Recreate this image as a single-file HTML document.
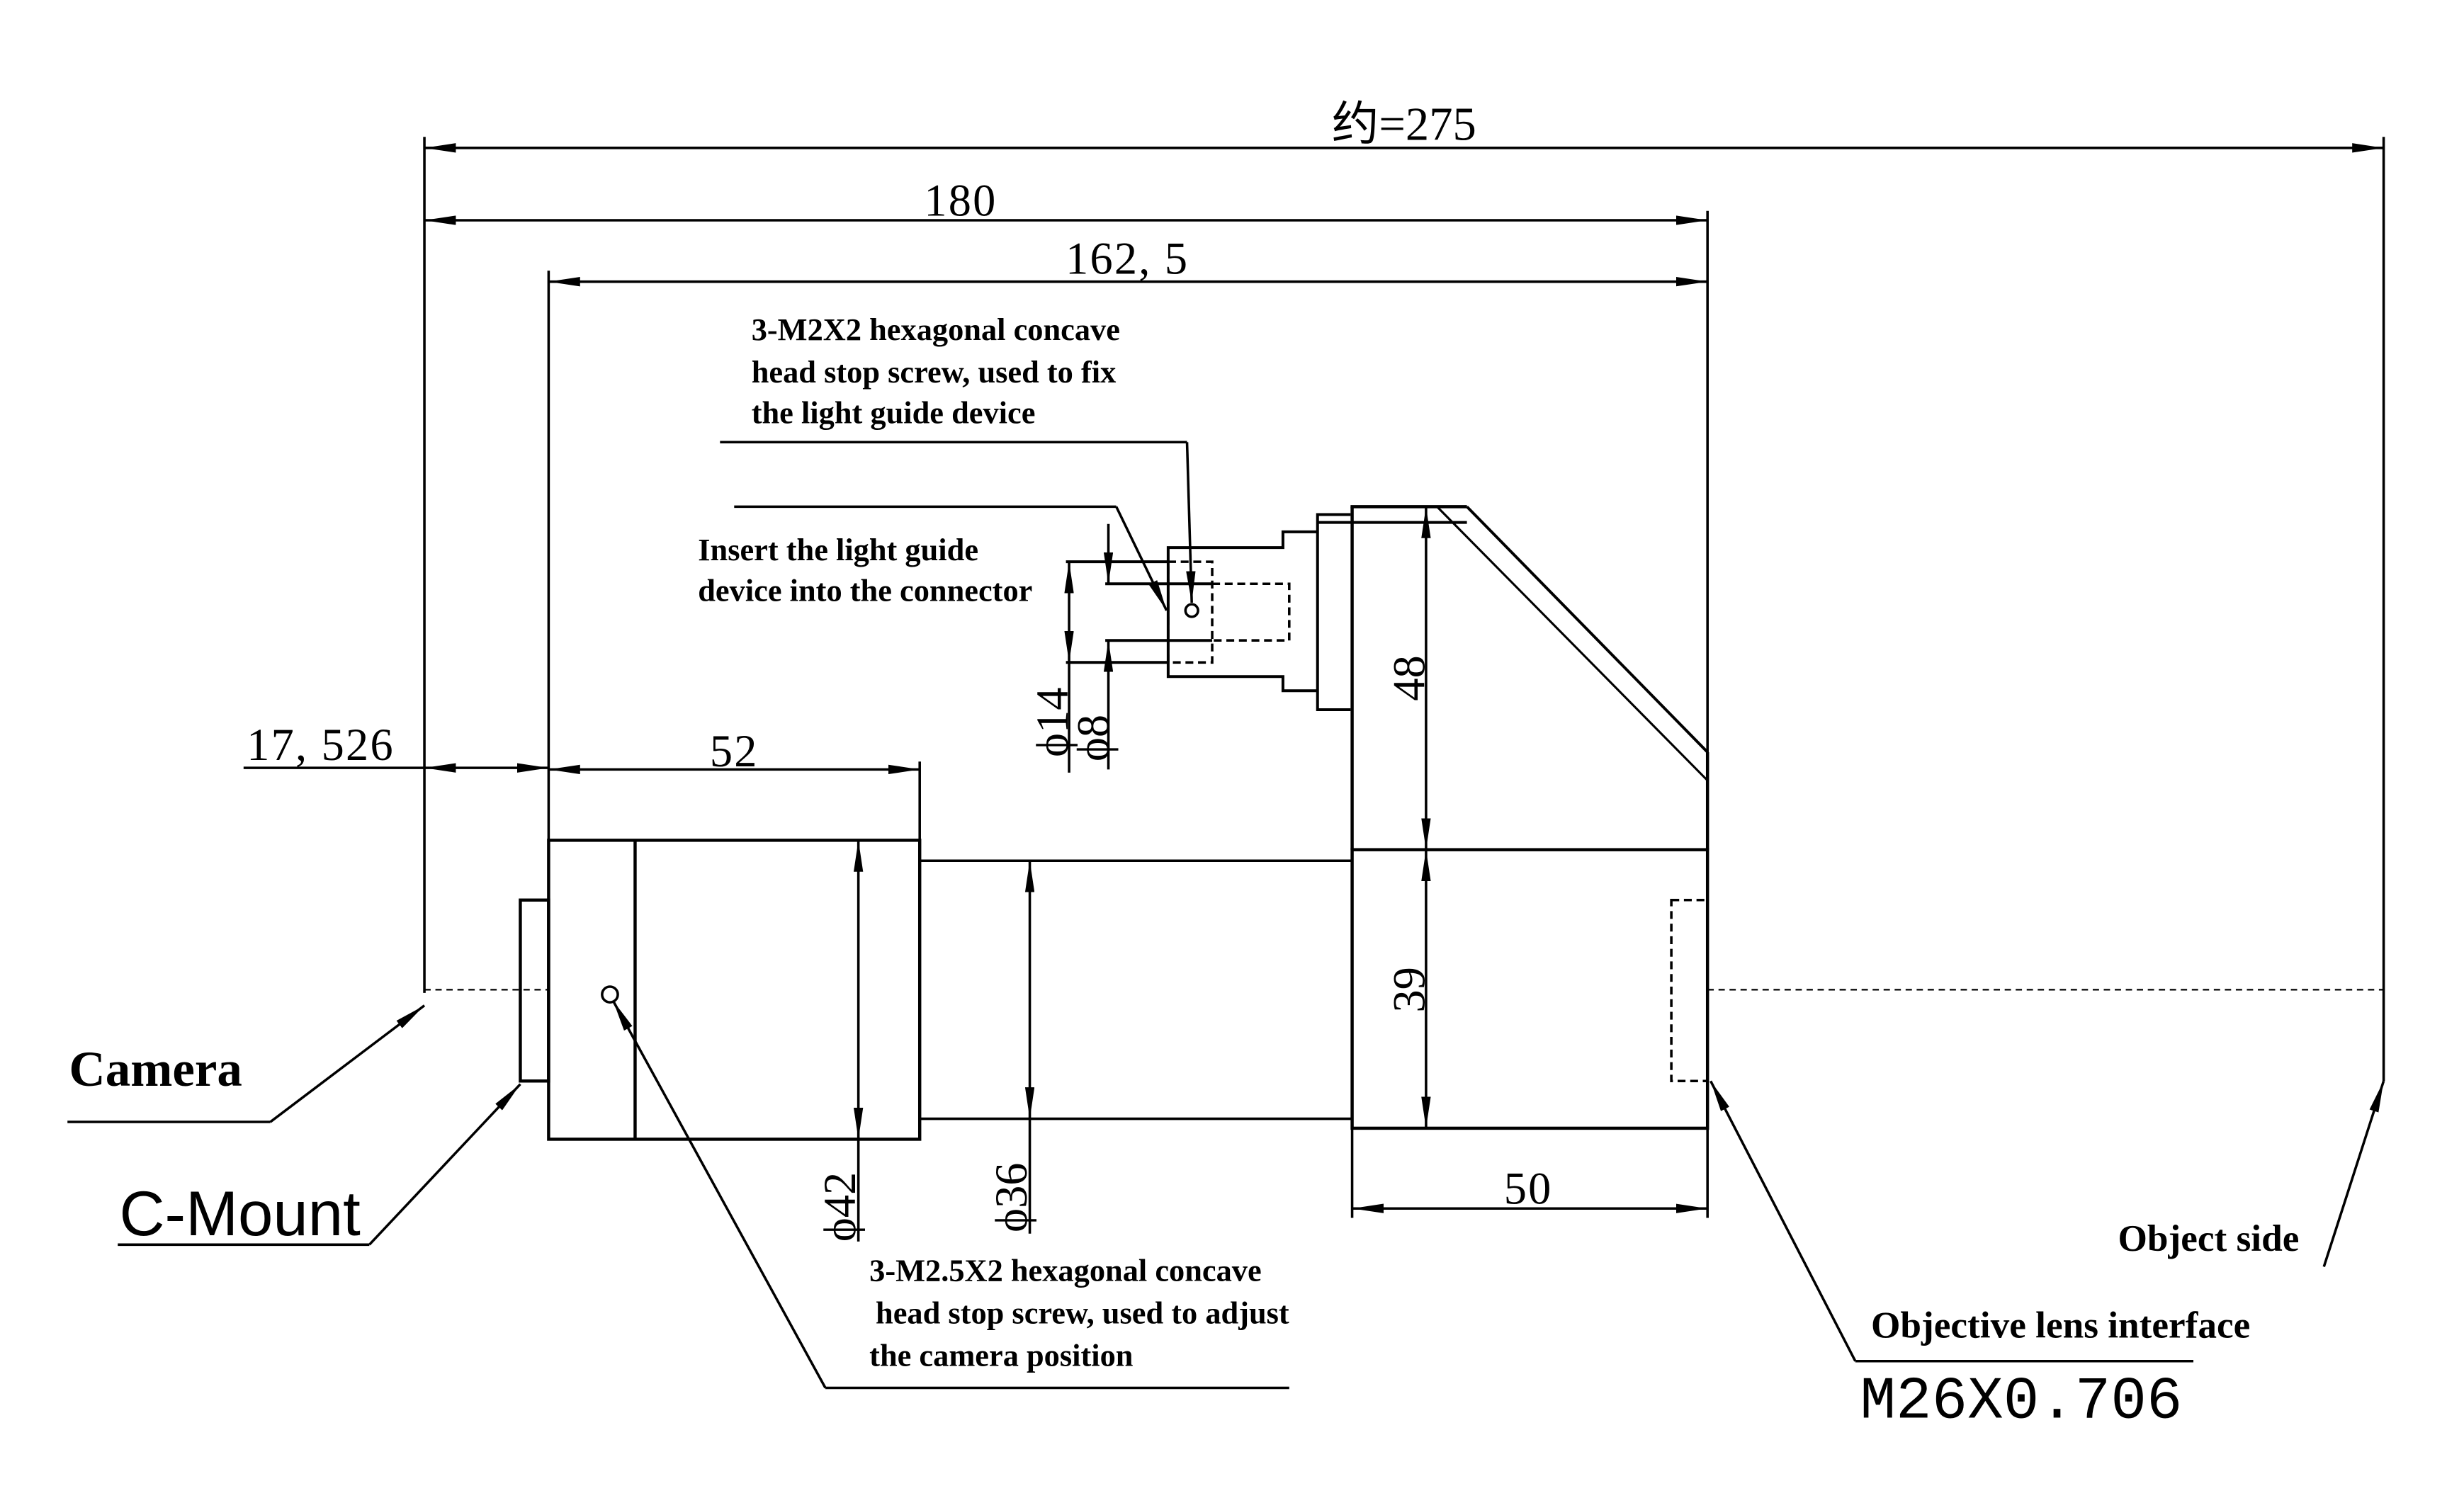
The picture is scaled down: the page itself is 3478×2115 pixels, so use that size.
<!DOCTYPE html>
<html><head><meta charset="utf-8"><style>html,body{margin:0;padding:0;background:#fff}svg{display:block}</style></head><body>
<svg width="3478" height="2115" viewBox="0.1 1 1567 952" preserveAspectRatio="none" xmlns="http://www.w3.org/2000/svg">
<defs>
<marker id="a" viewBox="0 0 20 6" refX="20" refY="3" markerWidth="20" markerHeight="6" markerUnits="userSpaceOnUse" orient="auto-start-reverse"><path d="M0,0 L20,3 L0,6 Z" fill="#000"/></marker>
</defs>
<g stroke="#000" stroke-width="1.6" fill="none">
<line x1="270" y1="88" x2="270" y2="632"/>
<line x1="1516" y1="88" x2="1516" y2="688"/>
<line x1="1086" y1="135" x2="1086" y2="497"/>
<line x1="349" y1="173" x2="349" y2="535"/>
<line x1="585" y1="485" x2="585" y2="535"/>
<line x1="270" y1="95" x2="1516" y2="95" marker-start="url(#a)" marker-end="url(#a)"/>
<line x1="270" y1="141" x2="1086" y2="141" marker-start="url(#a)" marker-end="url(#a)"/>
<line x1="349" y1="180" x2="1086" y2="180" marker-start="url(#a)" marker-end="url(#a)"/>
<line x1="155" y1="489" x2="270" y2="489"/>
<line x1="270" y1="489" x2="349" y2="489" marker-start="url(#a)" marker-end="url(#a)"/>
<line x1="349" y1="490" x2="585" y2="490" marker-start="url(#a)" marker-end="url(#a)"/>
<rect x="349" y="535" width="236" height="190" stroke-width="2"/>
<line x1="404" y1="535" x2="404" y2="725" stroke-width="2"/>
<circle cx="388" cy="633" r="5"/>
<rect x="331" y="573" width="18" height="115" stroke-width="2"/>
<line x1="585" y1="548" x2="860" y2="548"/>
<line x1="585" y1="712" x2="860" y2="712"/>
<line x1="546" y1="535" x2="546" y2="725" marker-start="url(#a)" marker-end="url(#a)"/>
<line x1="546" y1="725" x2="546" y2="790"/>
<line x1="655" y1="548" x2="655" y2="712" marker-start="url(#a)" marker-end="url(#a)"/>
<line x1="655" y1="712" x2="655" y2="785"/>
<rect x="860" y="541" width="226" height="177" stroke-width="2"/>
<line x1="860" y1="323" x2="860" y2="541" stroke-width="2"/>
<line x1="859" y1="323" x2="933" y2="323" stroke-width="2"/>
<line x1="838" y1="333" x2="933" y2="333" stroke-width="1.8"/>
<line x1="933" y1="323" x2="1086" y2="479" stroke-width="1.8"/>
<line x1="914" y1="323" x2="1086" y2="497" stroke-width="1.4"/>
<line x1="1086" y1="479" x2="1086" y2="541" stroke-width="2"/>
<polyline points="859,328 838,328 838,452 859,452" stroke-width="1.8"/>
<polyline points="838,339 816,339 816,349 743,349 743,431 816,431 816,440 838,440" stroke-width="1.8"/>
<rect x="743" y="358" width="28" height="64" stroke-dasharray="5,3"/>
<polyline points="771,372 820,372 820,408 771,408" stroke-dasharray="5,3"/>
<line x1="678" y1="358" x2="743" y2="358" stroke-width="1.8"/>
<line x1="678" y1="422" x2="743" y2="422" stroke-width="1.8"/>
<line x1="703" y1="372" x2="771" y2="372" stroke-width="1.8"/>
<line x1="703" y1="408" x2="771" y2="408" stroke-width="1.8"/>
<line x1="680" y1="358" x2="680" y2="422" marker-start="url(#a)" marker-end="url(#a)"/>
<line x1="680" y1="422" x2="680" y2="492"/>
<line x1="705" y1="334" x2="705" y2="372" marker-end="url(#a)"/>
<line x1="705" y1="490" x2="705" y2="408" marker-end="url(#a)"/>
<circle cx="758" cy="389" r="4"/>
<line x1="907" y1="323" x2="907" y2="541" marker-start="url(#a)" marker-end="url(#a)"/>
<line x1="907" y1="541" x2="907" y2="718" marker-start="url(#a)" marker-end="url(#a)"/>
<line x1="860" y1="718" x2="860" y2="775"/>
<line x1="1086" y1="718" x2="1086" y2="775"/>
<line x1="860" y1="769" x2="1086" y2="769" marker-start="url(#a)" marker-end="url(#a)"/>
<rect x="1063" y="573" width="23" height="115" stroke-dasharray="5,3"/>
<line x1="270" y1="630" x2="349" y2="630" stroke-dasharray="4,3" stroke-width="1"/>
<line x1="1086" y1="630" x2="1516" y2="630" stroke-dasharray="4,3" stroke-width="1"/>
<polyline points="458,282 755,282"/>
<line x1="755" y1="282" x2="758" y2="384" marker-end="url(#a)"/>
<line x1="467" y1="323" x2="710" y2="323"/>
<line x1="710" y1="323" x2="742" y2="389" marker-end="url(#a)"/>
<line x1="43" y1="714" x2="172" y2="714"/>
<line x1="172" y1="714" x2="270" y2="640" marker-end="url(#a)"/>
<line x1="75" y1="792" x2="235" y2="792"/>
<line x1="235" y1="792" x2="331" y2="690" marker-end="url(#a)"/>
<line x1="525" y1="883" x2="820" y2="883"/>
<line x1="525" y1="883" x2="390" y2="637" marker-end="url(#a)"/>
<line x1="1180" y1="866" x2="1395" y2="866"/>
<line x1="1180" y1="866" x2="1088" y2="688" marker-end="url(#a)"/>
<line x1="1478" y1="806" x2="1516" y2="688" marker-end="url(#a)"/>
</g>
<g font-family="Liberation Serif, 'Noto Serif CJK SC', serif" fill="#000">
<text x="893" y="90" font-size="30" text-anchor="middle" font-family="'Liberation Serif','Noto Sans CJK SC',serif">约=275</text>
<text x="611" y="138" font-size="29" text-anchor="middle" letter-spacing="1">180</text>
<text x="717" y="175" font-size="29" text-anchor="middle" letter-spacing="1">162, 5</text>
<text x="204" y="484" font-size="29" text-anchor="middle" letter-spacing="1">17, 526</text>
<text x="467" y="488" font-size="29" text-anchor="middle" letter-spacing="1">52</text>
<text x="972" y="766" font-size="29" text-anchor="middle" letter-spacing="1">50</text>
<text transform="translate(906,432) rotate(-90)" font-size="29" text-anchor="middle">48</text>
<text transform="translate(906,630) rotate(-90)" font-size="29" text-anchor="middle">39</text>
<text transform="translate(544,768) rotate(-90)" font-size="29" text-anchor="middle">ϕ42</text>
<text transform="translate(653,762) rotate(-90)" font-size="29" text-anchor="middle">ϕ36</text>
<text transform="translate(679,460) rotate(-90)" font-size="29" text-anchor="middle">ϕ14</text>
<text transform="translate(705,470) rotate(-90)" font-size="29" text-anchor="middle">ϕ8</text>
<g font-weight="bold" font-size="20">
<text x="478" y="217">3-M2X2 hexagonal concave</text>
<text x="478" y="244">head stop screw, used to fix</text>
<text x="478" y="270">the light guide device</text>
<text x="444" y="357">Insert the light guide</text>
<text x="444" y="383">device into the connector</text>
<text x="553" y="815">3-M2.5X2 hexagonal concave</text>
<text x="557" y="842">head stop screw, used to adjust</text>
<text x="553" y="869">the camera position</text>
<text x="1347" y="796" font-size="24">Object side</text>
<text x="1190" y="851" font-size="24">Objective lens interface</text>
<text x="44" y="691" font-size="32">Camera</text>
</g>
<text x="76" y="786" font-size="40" font-family="Liberation Sans, sans-serif">C-Mount</text>
<text x="1183" y="902" font-size="38" font-family="Liberation Mono, monospace" textLength="205" lengthAdjust="spacingAndGlyphs">M26X0.706</text>
</g>
</svg>
</body></html>
